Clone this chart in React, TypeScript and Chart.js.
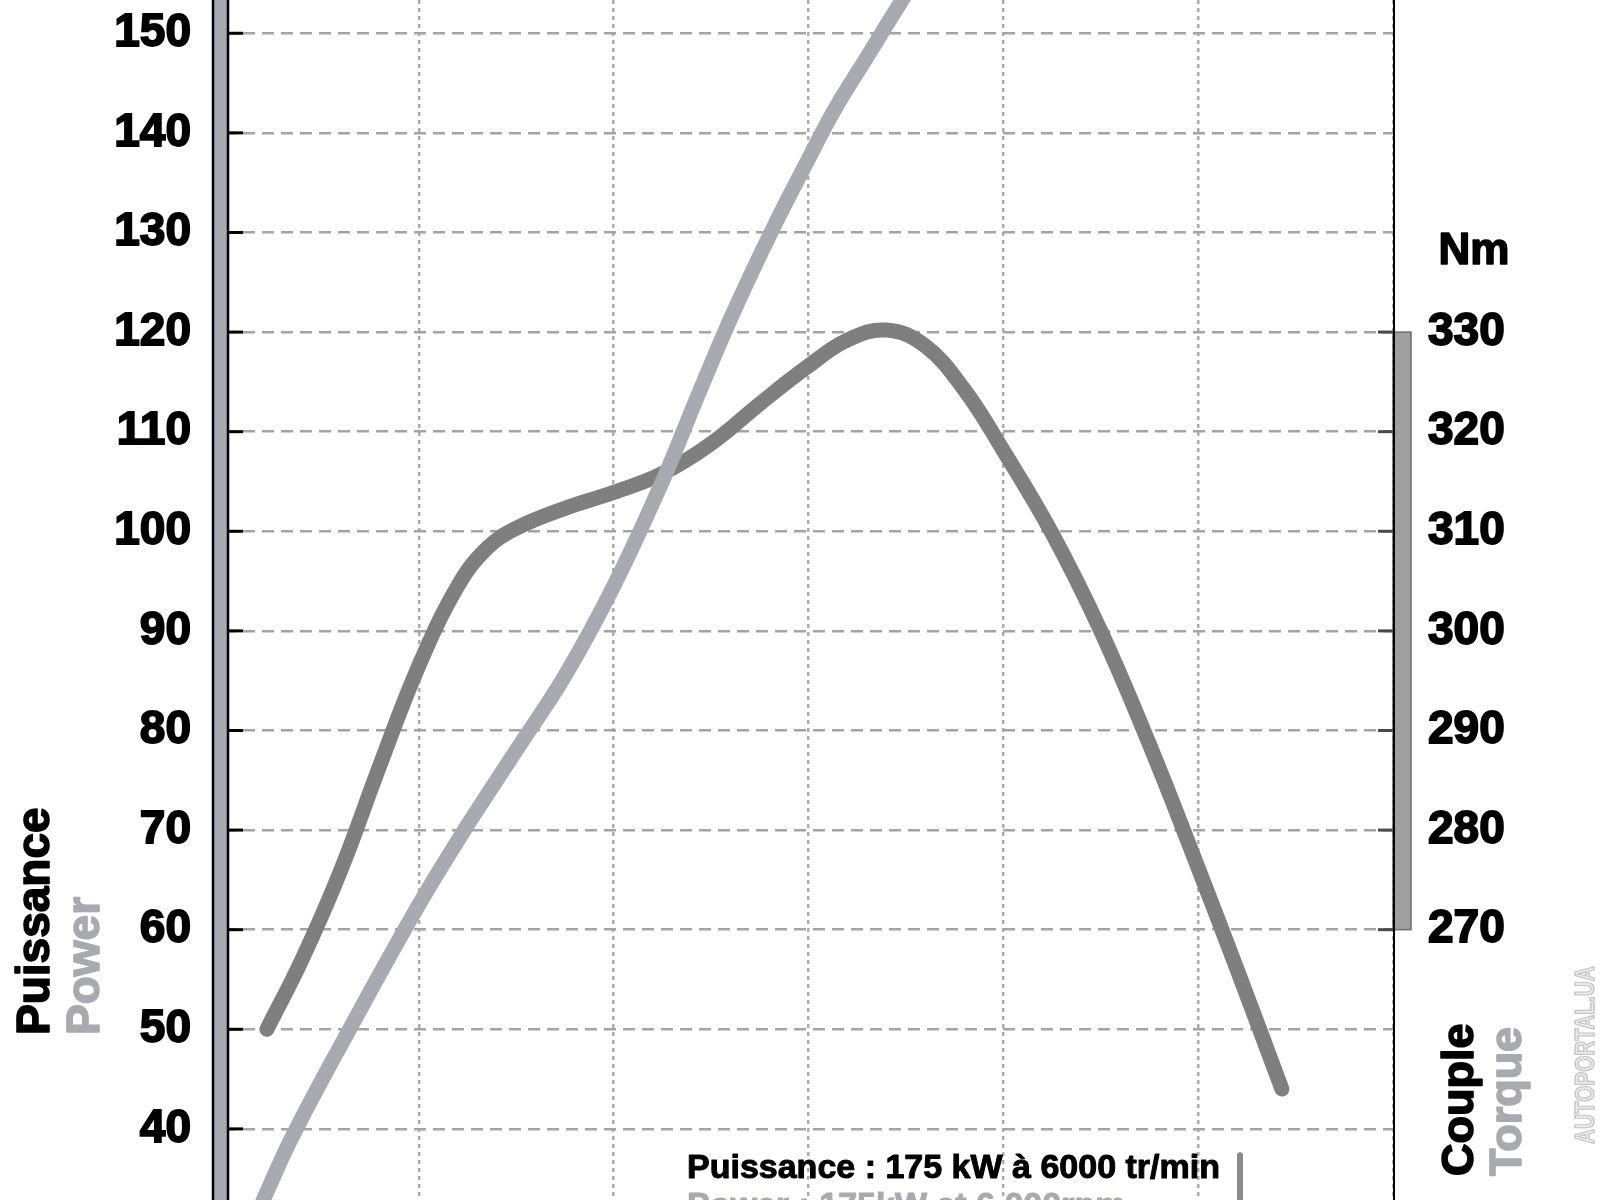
import React, { useEffect, useRef } from 'react';
import Chart from 'chart.js/auto';

// torque curve (Nm)
const torqueRpm = [1220, 1400, 1600, 1800, 2000, 2200, 2350, 2500, 2750, 3000, 3250, 3500, 3750, 4000, 4200, 4400, 4600, 4800, 5000, 5250, 5500, 5750, 6000, 6200, 6430];
const torqueNm = [260, 267, 276, 286.5, 296.5, 304.5, 308.3, 310.3, 312.3, 313.9, 315.8, 318.8, 322.8, 326.6, 329.2, 330.2, 328.6, 324.2, 318.1, 309.8, 300, 288.6, 276.2, 266, 254];

// power curve (kW); the part above 150 kW runs off the top of the picture
const powerRpm = [1200, 1350, 1650, 2000, 2250, 2500, 2750, 3000, 3250, 3440, 3615, 3820, 3990, 4130, 4300, 4470, 4800, 5400, 6000, 6400];
const powerKw = [32.8, 39.2, 50.2, 62.5, 70.5, 78, 85.5, 94.5, 105, 114, 122, 130.5, 137, 142.2, 147.6, 153, 163, 171, 175, 171];

const kwTicks = [40, 50, 60, 70, 80, 90, 100, 110, 120, 130, 140, 150];
const nmTicks = [270, 280, 290, 300, 310, 320, 330];
const rpmTicks = [1000, 2000, 3000, 4000, 5000, 6000, 7000];

const titleLeft = 'Puissance';
const titleLeft2 = 'Power';
const titleRight = 'Couple';
const titleRight2 = 'Torque';
const unitRight = 'Nm';
const noteFr = 'Puissance : 175 kW à 6000 tr/min';
const noteEn = 'Power : 175kW at 6 000rpm';
const watermark = 'AUTOPORTAL.UA';

const FONT = '"Liberation Sans", Arial, sans-serif';
const DARK = '#7f7f7f';
const LIGHT = '#a9a9b1';

const line = (ctx: CanvasRenderingContext2D, x1: number, y1: number, x2: number, y2: number) => {
  ctx.beginPath();
  ctx.moveTo(x1, y1);
  ctx.lineTo(x2, y2);
  ctx.stroke();
};

// bold text with a thin stroke so it looks heavier, like the original
const heavyText = (ctx: CanvasRenderingContext2D, text: string, x: number, y: number, color: string, stroke = 1.2) => {
  ctx.fillStyle = color;
  ctx.strokeStyle = color;
  ctx.lineWidth = stroke;
  ctx.lineJoin = 'round';
  ctx.fillText(text, x, y);
  ctx.strokeText(text, x, y);
};

const vText = (ctx: CanvasRenderingContext2D, text: string, x: number, y: number, size: number, color: string) => {
  ctx.save();
  ctx.translate(x, y);
  ctx.rotate(-Math.PI / 2);
  ctx.font = `bold ${size}px ${FONT}`;
  ctx.textAlign = 'left';
  ctx.textBaseline = 'alphabetic';
  heavyText(ctx, text, 0, 0, color, 1.6);
  ctx.restore();
};

const decorations = {
  id: 'decorations',
  afterDraw(chart: any) {
    const { ctx } = chart;
    const y = chart.scales.y;
    const y2 = chart.scales.y2;
    const H = chart.height;
    ctx.save();

    // left axis bar
    ctx.fillStyle = LIGHT;
    ctx.fillRect(212, 0, 17, H);
    ctx.strokeStyle = '#000';
    ctx.lineWidth = 2.5;
    line(ctx, 213, 0, 213, H);
    line(ctx, 228, 0, 228, H);
    ctx.lineWidth = 3;
    kwTicks.forEach((v) => {
      const py = y.getPixelForValue(v);
      line(ctx, 228, py, 243, py);
    });

    // right axis
    const top = y2.getPixelForValue(330);
    const bot = y2.getPixelForValue(270);
    ctx.fillStyle = '#9f9f9f';
    ctx.fillRect(1393, top, 18, bot - top);
    ctx.strokeStyle = '#6e6e6e';
    ctx.lineWidth = 1.5;
    ctx.strokeRect(1393, top, 18, bot - top);
    ctx.strokeStyle = '#000';
    ctx.lineWidth = 2;
    line(ctx, 1394, 0, 1394, H);
    ctx.strokeStyle = '#4a4a4a';
    ctx.lineWidth = 3;
    nmTicks.forEach((v) => {
      const py = y2.getPixelForValue(v);
      line(ctx, 1378, py, 1393, py);
    });

    // unit
    ctx.font = `bold 44px ${FONT}`;
    ctx.textAlign = 'center';
    ctx.textBaseline = 'alphabetic';
    heavyText(ctx, unitRight, 1474, 264, '#000', 1.6);

    // axis titles
    vText(ctx, titleLeft, 49, 1035, 46, '#000');
    vText(ctx, titleLeft2, 99, 1035, 46, LIGHT);
    vText(ctx, titleRight, 1473, 1176, 45, '#000');
    vText(ctx, titleRight2, 1521, 1176, 45, LIGHT);

    // watermark
    ctx.save();
    ctx.translate(1594, 1144);
    ctx.rotate(-Math.PI / 2);
    ctx.scale(0.74, 1);
    ctx.font = `bold 28px ${FONT}`;
    ctx.textAlign = 'left';
    ctx.fillStyle = '#ececf0';
    ctx.strokeStyle = '#c4c4cc';
    ctx.lineWidth = 1.5;
    ctx.fillText(watermark, 0, 0);
    ctx.strokeText(watermark, 0, 0);
    ctx.restore();

    // note at the bottom
    ctx.font = `bold 34px ${FONT}`;
    ctx.textAlign = 'left';
    heavyText(ctx, noteFr, 687, 1178, '#000', 1);
    heavyText(ctx, noteEn, 687, 1216, LIGHT, 1);
    ctx.fillStyle = '#8a8a8a';
    ctx.beginPath();
    ctx.moveTo(1237, 1200);
    ctx.lineTo(1237, 1154);
    ctx.quadraticCurveTo(1240, 1150, 1243, 1154);
    ctx.lineTo(1243, 1200);
    ctx.closePath();
    ctx.fill();

    ctx.restore();
  },
};

const App: React.FC = () => {
  const chartRef = useRef<HTMLCanvasElement | null>(null);
  const chartInstance = useRef<Chart | null>(null);

  useEffect(() => {
    if (chartRef.current) {
      const ctx = chartRef.current.getContext('2d');
      if (ctx) {
        if (chartInstance.current) {
          chartInstance.current.destroy();
        }
        const tickFont = { family: FONT, size: 46, weight: 'bold' };
        chartInstance.current = new Chart(ctx, {
          type: 'line',
          data: {
            datasets: [
              {
                label: 'Power',
                data: powerRpm.map((r, i) => ({ x: r, y: powerKw[i] })),
                borderColor: LIGHT,
                borderWidth: 15,
                borderCapStyle: 'round',
                borderJoinStyle: 'round',
                pointRadius: 0,
                tension: 0.4,
                yAxisID: 'y',
              },
              {
                label: 'Torque',
                data: torqueRpm.map((r, i) => ({ x: r, y: torqueNm[i] })),
                borderColor: DARK,
                borderWidth: 15,
                borderCapStyle: 'round',
                borderJoinStyle: 'round',
                pointRadius: 0,
                tension: 0.4,
                yAxisID: 'y2',
              },
            ],
          },
          options: {
            responsive: false,
            animation: false,
            devicePixelRatio: 1,
            layout: { padding: 0 },
            plugins: { legend: { display: false }, tooltip: { enabled: false } },
            scales: {
              x: {
                type: 'linear',
                min: 1000,
                max: 7000,
                afterBuildTicks: (s: any) => {
                  s.ticks = rpmTicks.map((v) => ({ value: v }));
                },
                afterFit: (s: any) => {
                  s.height = 0;
                },
                ticks: { display: false },
                border: { display: false, dash: [4, 4] },
                grid: { color: '#acacac', lineWidth: 2.5, drawTicks: false },
              },
              y: {
                position: 'left',
                min: 32.86,
                max: 153.34,
                afterBuildTicks: (s: any) => {
                  s.ticks = kwTicks.map((v) => ({ value: v }));
                },
                afterFit: (s: any) => {
                  s.width = 224;
                  s.paddingTop = 0;
                  s.paddingBottom = 0;
                },
                border: { display: false, dash: [12, 7] },
                grid: { color: '#a4a4a4', lineWidth: 2.5, drawTicks: false },
                ticks: {
                  padding: 33,
                  color: '#000',
                  font: tickFont,
                  textStrokeColor: '#000',
                  textStrokeWidth: 1.8,
                },
              },
              y2: {
                position: 'right',
                min: 242.86,
                max: 363.34,
                afterBuildTicks: (s: any) => {
                  s.ticks = nmTicks.map((v) => ({ value: v }));
                },
                afterFit: (s: any) => {
                  s.width = 207;
                  s.paddingTop = 0;
                  s.paddingBottom = 0;
                },
                border: { display: false },
                grid: { display: false, drawTicks: false },
                ticks: {
                  padding: 35,
                  color: '#000',
                  font: tickFont,
                  textStrokeColor: '#000',
                  textStrokeWidth: 1.8,
                },
              },
            },
          },
          plugins: [decorations],
        } as any);
      }
    }
    return () => {
      if (chartInstance.current) {
        chartInstance.current.destroy();
        chartInstance.current = null;
      }
    };
  }, []);

  return (
    <div style={{ position: 'absolute', left: 0, top: 0, width: 1600, height: 1200, background: '#fff' }}>
      <canvas ref={chartRef} width={1600} height={1200}></canvas>
    </div>
  );
};

export default App;
